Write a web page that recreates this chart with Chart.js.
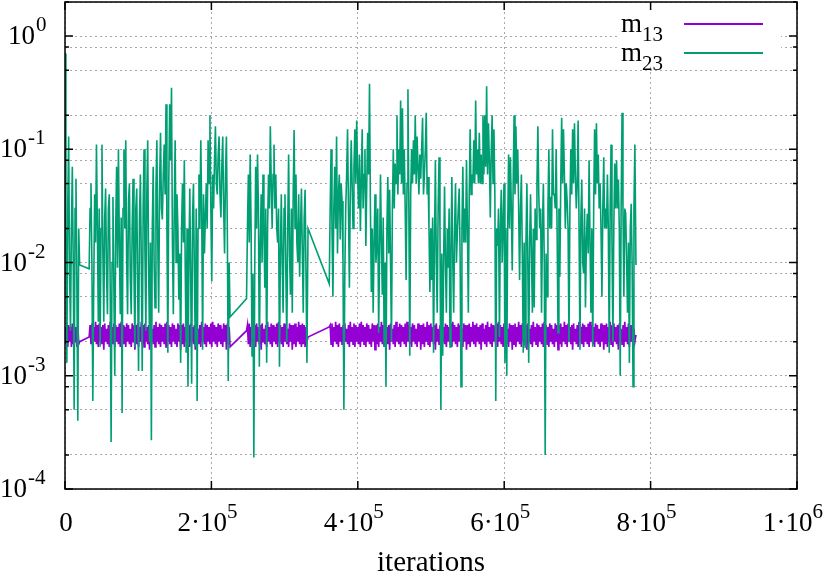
<!DOCTYPE html>
<html><head><meta charset="utf-8">
<script src="https://cdn.jsdelivr.net/npm/chart.js@4/dist/chart.umd.min.js"></script>
<style>html,body{margin:0;padding:0;background:#fff}#wrap{width:830px;height:575px}</style>
</head><body><div id="wrap"><canvas id="c" width="830" height="575"></canvas></div>
<script>
// iterations in thousands (sampling positions)
const iterationsK = [
0,1.25,2.5,3.75,5,6.25,7.5,8.75,10,11.25,12.5,13.75,15,16.25,17.5,18.75,20,
33,34.25,35.5,36.75,38,39.25,40.5,41.75,
43,44.25,45.5,46.75,48,49.25,50.5,51.75,
53,54.25,55.5,56.75,58,59.25,60.5,61.75,
63,64.25,65.5,66.75,68,69.25,70.5,71.75,
73,74.25,75.5,76.75,78,79.25,80.5,81.75,
83,84.25,85.5,86.75,88,89.25,90.5,91.75,
93,94.25,95.5,96.75,98,99.25,100.5,101.75,
103,104.25,105.5,106.75,108,109.25,110.5,111.75,
113,114.25,115.5,116.75,118,119.25,120.5,121.75,
123,124.25,125.5,126.75,128,129.25,130.5,131.75,
133,134.25,135.5,136.75,138,139.25,140.5,141.75,
143,144.25,145.5,146.75,148,149.25,150.5,151.75,
153,154.25,155.5,156.75,158,159.25,160.5,161.75,
163,164.25,165.5,166.75,168,169.25,170.5,171.75,
173,174.25,175.5,176.75,178,179.25,180.5,181.75,
183,184.25,185.5,186.75,188,189.25,190.5,191.75,
193,194.25,195.5,196.75,198,199.25,200.5,201.75,
203,204.25,205.5,206.75,208,209.25,210.5,211.75,
213,214.25,215.5,216.75,218,219.25,220.5,221.75,
223,224.25,225.5,
248,249.25,250.5,251.75,253,254.25,255.5,256.75,
258,259.25,260.5,261.75,263,264.25,265.5,266.75,
268,269.25,270.5,271.75,273,274.25,275.5,276.75,
278,279.25,280.5,281.75,283,284.25,285.5,286.75,
288,289.25,290.5,291.75,293,294.25,295.5,296.75,
298,299.25,300.5,301.75,303,304.25,305.5,306.75,
308,309.25,310.5,311.75,313,314.25,315.5,316.75,
318,319.25,320.5,321.75,323,324.25,325.5,326.75,
328,329.25,330.5,332,
361,362.25,363.5,364.75,366,367.25,368.5,369.75,
371,372.25,373.5,374.75,376,377.25,378.5,379.75,
381,382.25,383.5,384.75,386,387.25,388.5,389.75,
391,392.25,393.5,394.75,396,397.25,398.5,399.75,
401,402.25,403.5,404.75,406,407.25,408.5,409.75,
411,412.25,413.5,414.75,416,417.25,418.5,419.75,
421,422.25,423.5,424.75,426,427.25,428.5,429.75,
431,432.25,433.5,434.75,436,437.25,438.5,439.75,
441,442.25,443.5,444.75,446,447.25,448.5,449.75,
451,452.25,453.5,454.75,456,457.25,458.5,459.75,
461,462.25,463.5,464.75,466,467.25,468.5,469.75,
471,472.25,473.5,474.75,476,477.25,478.5,479.75,
481,482.25,483.5,484.75,486,487.25,488.5,489.75,
491,492.25,493.5,494.75,496,497.25,498.5,499.75,
501,502.25,503.5,504.75,506,507.25,508.5,509.75,
511,512.25,513.5,514.75,516,517.25,518.5,519.75,
521,522.25,523.5,524.75,526,527.25,528.5,529.75,
531,532.25,533.5,534.75,536,537.25,538.5,539.75,
541,542.25,543.5,544.75,546,547.25,548.5,549.75,
551,552.25,553.5,554.75,556,557.25,558.5,559.75,
561,562.25,563.5,564.75,566,567.25,568.5,569.75,
571,572.25,573.5,574.75,576,577.25,578.5,579.75,
581,582.25,583.5,584.75,586,587.25,588.5,589.75,
591,592.25,593.5,594.75,596,597.25,598.5,599.75,
601,602.25,603.5,604.75,606,607.25,608.5,609.75,
611,612.25,613.5,614.75,616,617.25,618.5,619.75,
621,622.25,623.5,624.75,626,627.25,628.5,629.75,
631,632.25,633.5,634.75,636,637.25,638.5,639.75,
641,642.25,643.5,644.75,646,647.25,648.5,649.75,
651,652.25,653.5,654.75,656,657.25,658.5,659.75,
661,662.25,663.5,664.75,666,667.25,668.5,669.75,
671,672.25,673.5,674.75,676,677.25,678.5,679.75,
681,682.25,683.5,684.75,686,687.25,688.5,689.75,
691,692.25,693.5,694.75,696,697.25,698.5,699.75,
701,702.25,703.5,704.75,706,707.25,708.5,709.75,
711,712.25,713.5,714.75,716,717.25,718.5,719.75,
721,722.25,723.5,724.75,726,727.25,728.5,729.75,
731,732.25,733.5,734.75,736,737.25,738.5,739.75,
741,742.25,743.5,744.75,746,747.25,748.5,749.75,
751,752.25,753.5,754.75,756,757.25,758.5,759.75,
761,762.25,763.5,764.75,766,767.25,768.5,769.75,
771,772.25,773.5,774.75,776,777.25,778.5,780
];

const m13 = [
0.0027,0.0019,0.0029,0.0018,0.0028,0.0020,0.0027,0.0018,0.0029,0.0019,0.0028,0.0020,0.0027,0.0018,0.0029,0.0019,0.0020,
0.0022,
0.0028,0.0019,0.0029,0.0018,0.0027,0.0020,0.0030,0.0019,0.0028,0.0018,
0.0029,0.0020,0.0027,0.0019,0.0028,0.0017,0.0029,0.0020,0.0026,0.0019,
0.0028,0.0018,0.0030,0.0020,0.0027,0.0019,0.0029,0.0018,0.0028,0.0020,
0.0027,0.0019,0.0029,0.0018,0.0030,0.0020,0.0028,0.0019,0.0027,0.0018,
0.0029,0.0020,0.0028,0.0019,0.0026,0.0018,0.0029,0.0020,0.0028,0.0017,
0.0028,0.0019,0.0029,0.0018,0.0027,0.0020,0.0030,0.0019,0.0028,0.0018,
0.0029,0.0020,0.0027,0.0019,0.0028,0.0017,0.0029,0.0020,0.0026,0.0019,
0.0028,0.0018,0.0030,0.0020,0.0027,0.0019,0.0029,0.0018,0.0028,0.0020,
0.0027,0.0019,0.0029,0.0018,0.0030,0.0020,0.0028,0.0019,0.0027,0.0018,
0.0029,0.0020,0.0028,0.0019,0.0026,0.0018,0.0029,0.0020,0.0028,0.0017,
0.0028,0.0019,0.0029,0.0018,0.0027,0.0020,0.0030,0.0019,0.0028,0.0018,
0.0029,0.0020,0.0027,0.0019,0.0028,0.0017,0.0029,0.0020,0.0026,0.0019,
0.0028,0.0018,0.0030,0.0020,0.0027,0.0019,0.0029,0.0018,0.0028,0.0020,
0.0027,0.0019,0.0029,0.0018,0.0030,0.0020,0.0028,0.0019,0.0027,0.0018,
0.0029,0.0020,0.0028,0.0019,0.0026,0.0018,0.0029,0.0020,0.0028,0.0017,
0.0029,0.0019,0.0027,0.0018,
0.0025,
0.0028,0.0019,0.0029,0.0018,0.0027,0.0020,0.0030,0.0019,0.0028,0.0018,
0.0029,0.0020,0.0027,0.0019,0.0028,0.0017,0.0029,0.0020,0.0026,0.0019,
0.0028,0.0018,0.0030,0.0020,0.0027,0.0019,0.0029,0.0018,0.0028,0.0020,
0.0027,0.0019,0.0029,0.0018,0.0030,0.0020,0.0028,0.0019,0.0027,0.0018,
0.0029,0.0020,0.0028,0.0019,0.0026,0.0018,0.0029,0.0020,0.0028,0.0017,
0.0028,0.0019,0.0029,0.0018,0.0027,0.0020,0.0030,0.0019,0.0028,0.0018,
0.0029,0.0019,0.0028,0.0018,0.0027,0.0020,0.0022,
0.0027,
0.0028,0.0019,0.0029,0.0018,0.0027,0.0020,0.0030,0.0019,0.0028,0.0018,
0.0029,0.0020,0.0027,0.0019,0.0028,0.0017,0.0029,0.0020,0.0026,0.0019,
0.0028,0.0018,0.0030,0.0020,0.0027,0.0019,0.0029,0.0018,0.0028,0.0020,
0.0027,0.0019,0.0029,0.0018,0.0030,0.0020,0.0028,0.0019,0.0027,0.0018,
0.0029,0.0020,0.0028,0.0019,0.0026,0.0018,0.0029,0.0020,0.0028,0.0017,
0.0028,0.0019,0.0029,0.0018,0.0027,0.0020,0.0030,0.0019,0.0028,0.0018,
0.0029,0.0020,0.0027,0.0019,0.0028,0.0017,0.0029,0.0020,0.0026,0.0019,
0.0028,0.0018,0.0030,0.0020,0.0027,0.0019,0.0029,0.0018,0.0028,0.0020,
0.0027,0.0019,0.0029,0.0018,0.0030,0.0020,0.0028,0.0019,0.0027,0.0018,
0.0029,0.0020,0.0028,0.0019,0.0026,0.0018,0.0029,0.0020,0.0028,0.0017,
0.0028,0.0019,0.0029,0.0018,0.0027,0.0020,0.0030,0.0019,0.0028,0.0018,
0.0029,0.0020,0.0027,0.0019,0.0028,0.0017,0.0029,0.0020,0.0026,0.0019,
0.0028,0.0018,0.0030,0.0020,0.0027,0.0019,0.0029,0.0018,0.0028,0.0020,
0.0027,0.0019,0.0029,0.0018,0.0030,0.0020,0.0028,0.0019,0.0027,0.0018,
0.0029,0.0020,0.0028,0.0019,0.0026,0.0018,0.0029,0.0020,0.0028,0.0017,
0.0028,0.0019,0.0029,0.0018,0.0027,0.0020,0.0030,0.0019,0.0028,0.0018,
0.0029,0.0020,0.0027,0.0019,0.0028,0.0017,0.0029,0.0020,0.0026,0.0019,
0.0028,0.0018,0.0030,0.0020,0.0027,0.0019,0.0029,0.0018,0.0028,0.0020,
0.0027,0.0019,0.0029,0.0018,0.0030,0.0020,0.0028,0.0019,0.0027,0.0018,
0.0029,0.0020,0.0028,0.0019,0.0026,0.0018,0.0029,0.0020,0.0028,0.0017,
0.0028,0.0019,0.0029,0.0018,0.0027,0.0020,0.0030,0.0019,0.0028,0.0018,
0.0029,0.0020,0.0027,0.0019,0.0028,0.0017,0.0029,0.0020,0.0026,0.0019,
0.0028,0.0018,0.0030,0.0020,0.0027,0.0019,0.0029,0.0018,0.0028,0.0020,
0.0027,0.0019,0.0029,0.0018,0.0030,0.0020,0.0028,0.0019,0.0027,0.0018,
0.0029,0.0020,0.0028,0.0019,0.0026,0.0018,0.0029,0.0020,0.0028,0.0017,
0.0028,0.0019,0.0029,0.0018,0.0027,0.0020,0.0030,0.0019,0.0028,0.0018,
0.0029,0.0020,0.0027,0.0019,0.0028,0.0017,0.0029,0.0020,0.0026,0.0019,
0.0028,0.0018,0.0030,0.0020,0.0027,0.0019,0.0029,0.0018,0.0028,0.0020,
0.0027,0.0019,0.0029,0.0018,0.0030,0.0020,0.0028,0.0019,0.0027,0.0018,
0.0029,0.0020,0.0028,0.0019,0.0026,0.0018,0.0029,0.0020,0.0028,0.0017,
0.0028,0.0019,0.0029,0.0018,0.0027,0.0020,0.0030,0.0019,0.0028,0.0018,
0.0029,0.0020,0.0027,0.0019,0.0028,0.0017,0.0029,0.0020,0.0026,0.0019,
0.0028,0.0018,0.0030,0.0020,0.0027,0.0019,0.0029,0.0018,0.0028,0.0020,
0.0028,0.0019,0.0026,0.0020,0.0023
];

const m23 = [
0.7,0.02,0.0013,0.03,0.13,0.008,0.0025,0.02,0.07,0.01,0.0005,0.03,0.055,0.006,0.0004,0.02,0.0095,
0.0088,0.03,0.05,0.01,0.0006,0.006,0.04,0.015,0.11,0.02,0.003,0.03,0.0018,0.02,0.11,0.012,0.003,0.025,0.045,0.008,
0.0035,0.03,0.04,0.006,0.00026,0.01,0.038,0.006,0.001,0.02,0.07,0.009,0.1,0.015,0.0035,0.025,0.00047,0.03,0.1,0.02,
0.12,0.01,0.0035,0.035,0.05,0.007,0.0035,0.02,0.055,0.008,0.0018,0.03,0.045,0.006,0.0011,0.025,0.06,0.01,0.0011,0.03,
0.1,0.012,0.0025,0.04,0.12,0.009,0.002,0.015,0.00027,0.02,0.07,0.01,0.004,0.045,0.12,0.015,0.0036,0.05,0.14,0.03,
0.024,0.06,0.11,0.04,0.25,0.02,0.0016,0.05,0.25,0.08,0.35,0.015,0.0035,0.03,0.12,0.01,0.04,0.02,0.0047,0.012,
0.0013,0.02,0.05,0.015,0.08,0.009,0.0016,0.02,0.0008,0.01,0.045,0.007,0.00085,0.025,0.05,0.008,0.0018,0.03,0.0006,0.02,
0.06,0.02,0.12,0.03,0.0017,0.04,0.012,0.025,0.05,0.02,0.12,0.05,0.2,0.03,0.0068,0.06,0.03,0.08,0.16,0.05,
0.04,0.09,0.13,0.04,0.025,0.07,0.13,0.03,0.012,0.06,0.13,0.02,0.0009,0.01,0.0033,
0.0048,0.02,0.06,0.015,0.09,0.02,0.0015,0.008,0.00019,0.01,0.07,0.02,0.09,0.03,0.0012,0.015,0.04,0.01,0.06,0.02,
0.006,0.03,0.0013,0.02,0.06,0.03,0.16,0.05,0.02,0.06,0.11,0.03,0.06,0.02,0.015,0.03,0.0012,0.012,0.04,0.01,
0.0036,0.03,0.04,0.008,0.002,0.02,0.09,0.012,0.0052,0.03,0.0036,0.04,0.148,0.02,0.06,0.015,0.01,0.04,0.0075,0.02,
0.045,0.012,0.0036,0.025,0.044,0.008,0.0013,0.02,
0.0065,0.03,0.1,0.02,0.005,0.03,0.07,0.02,0.13,0.012,0.04,0.06,0.016,0.05,0.035,0.01,0.0005,0.008,0.03,0.06,
0.15,0.03,0.006,0.04,0.12,0.05,0.02,0.07,0.15,0.05,0.18,0.06,0.03,0.09,0.019,0.05,0.15,0.03,0.06,0.1,
0.014,0.05,0.14,0.06,0.38,0.03,0.0055,0.02,0.0036,0.015,0.04,0.01,0.014,0.03,0.0024,0.012,0.06,0.015,0.0052,0.025,
0.0018,0.01,0.0008,0.02,0.057,0.012,0.044,0.01,0.002,0.03,0.1,0.03,0.075,0.05,0.2,0.04,0.1,0.06,0.27,0.05,
0.23,0.04,0.1,0.03,0.007,0.05,0.34,0.03,0.0015,0.04,0.1,0.05,0.12,0.06,0.2,0.05,0.13,0.07,0.04,0.09,
0.055,0.1,0.19,0.04,0.06,0.1,0.21,0.04,0.057,0.02,0.0055,0.02,0.007,0.025,0.0016,0.015,0.08,0.01,0.0036,0.03,
0.085,0.02,0.0005,0.012,0.0015,0.01,0.047,0.01,0.0036,0.02,0.009,0.03,0.0018,0.012,0.057,0.01,0.0036,0.02,0.05,0.01,
0.018,0.03,0.045,0.012,0.0008,0.02,0.07,0.015,0.03,0.015,0.08,0.02,0.0036,0.04,0.15,0.04,0.06,0.05,0.12,0.05,
0.27,0.06,0.1,0.05,0.14,0.05,0.09,0.05,0.2,0.06,0.2,0.07,0.36,0.06,0.17,0.08,0.025,0.09,0.2,0.05,
0.15,0.04,0.0006,0.02,0.014,0.03,0.0022,0.02,0.044,0.01,0.023,0.05,0.0013,0.02,0.001,0.02,0.09,0.02,0.085,0.03,
0.0085,0.05,0.2,0.04,0.16,0.05,0.1,0.03,0.007,0.03,0.06,0.012,0.0016,0.015,0.0018,0.015,0.05,0.01,0.0013,0.015,
0.04,0.012,0.0036,0.02,0.004,0.03,0.016,0.05,0.16,0.04,0.02,0.03,0.0036,0.02,0.05,0.01,0.0002,0.012,0.005,0.03,
0.1,0.02,0.038,0.02,0.15,0.04,0.04,0.03,0.1,0.02,0.0024,0.03,0.0075,0.05,0.19,0.05,0.15,0.06,0.02,0.05,
0.035,0.02,0.002,0.03,0.1,0.04,0.15,0.05,0.17,0.06,0.03,0.05,0.18,0.02,0.0017,0.025,0.054,0.01,0.008,0.03,
0.004,0.015,0.027,0.012,0.08,0.015,0.0036,0.02,0.0018,0.03,0.15,0.04,0.17,0.05,0.09,0.03,0.05,0.02,0.005,0.03,
0.085,0.02,0.03,0.02,0.06,0.02,0.0016,0.03,0.11,0.015,0.002,0.02,0.075,0.03,0.08,0.03,0.054,0.02,0.001,0.03,
0.21,0.03,0.005,0.03,0.027,0.01,0.0036,0.015,0.0013,0.02,0.033,0.01,0.0008,0.03,0.11,0.0095
];

const seriesNames = ["m", "m"];
const seriesSubscripts = ["13", "23"];
const seriesColors = ["#9400d3", "#009e73"];

const xTickValues = [0, 200000, 400000, 600000, 800000, 1000000];
const xTickMantissa = ["0", "2·10", "4·10", "6·10", "8·10", "1·10"];
const xTickExponent = ["", "5", "5", "5", "5", "6"];
const yTickValues = [1e-4, 1e-3, 1e-2, 1e-1, 1];
const yTickExponent = ["-4", "-3", "-2", "-1", "0"];
const yMinorValues = [2e-4, 5e-4, 8e-4, 2e-3, 5e-3, 8e-3, 2e-2, 5e-2, 8e-2, 0.2, 0.5, 0.8, 2];
const xTitle = "iterations";

const FONT = '"Liberation Serif", "Times New Roman", serif';
const BIG = 27, SMALL = 21, TITLE = 29;

function pts(vals) {
  const n = Math.min(iterationsK.length, vals.length);
  const out = [];
  for (let i = 0; i < n; i++) out.push({x: iterationsK[i] * 1000, y: vals[i]});
  return out;
}

const decor = {
  id: 'decor',
  afterDraw(chart) {
    const ctx = chart.ctx, a = chart.chartArea;
    const xs = chart.scales.x, ys = chart.scales.y;
    ctx.save();
    ctx.fillStyle = '#fff';
    ctx.fillRect(a.right - 180, a.top + 1, 164, 62);
    for (let i = 0; i < seriesNames.length; i++) {
      const base = a.top + 30 + i * 29;
      ctx.fillStyle = '#000';
      ctx.textBaseline = 'alphabetic';
      ctx.textAlign = 'left';
      ctx.font = BIG + 'px ' + FONT;
      const tx = a.right - 176;
      ctx.fillText(seriesNames[i], tx, base);
      const mw = ctx.measureText(seriesNames[i]).width;
      ctx.font = SMALL + 'px ' + FONT;
      ctx.fillText(seriesSubscripts[i], tx + mw, base + 9);
      ctx.strokeStyle = seriesColors[i];
      ctx.lineWidth = 2;
      ctx.beginPath();
      ctx.moveTo(a.right - 113, base - 8);
      ctx.lineTo(a.right - 34, base - 8);
      ctx.stroke();
    }
    ctx.strokeStyle = '#000';
    ctx.lineWidth = 1.5;
    ctx.strokeRect(a.left, a.top, a.right - a.left, a.bottom - a.top);
    ctx.beginPath();
    xTickValues.forEach(v => {
      const px = xs.getPixelForValue(v);
      ctx.moveTo(px, a.bottom); ctx.lineTo(px, a.bottom - 8);
      ctx.moveTo(px, a.top); ctx.lineTo(px, a.top + 8);
    });
    yTickValues.forEach(v => {
      const py = ys.getPixelForValue(v);
      ctx.moveTo(a.left, py); ctx.lineTo(a.left + 8, py);
      ctx.moveTo(a.right, py); ctx.lineTo(a.right - 8, py);
    });
    yMinorValues.forEach(v => {
      const py = ys.getPixelForValue(v);
      ctx.moveTo(a.left, py); ctx.lineTo(a.left + 4, py);
      ctx.moveTo(a.right, py); ctx.lineTo(a.right - 4, py);
    });
    ctx.stroke();
    ctx.fillStyle = '#000';
    ctx.textAlign = 'left';
    ctx.textBaseline = 'alphabetic';
    yTickValues.forEach((v, i) => {
      const py = ys.getPixelForValue(v);
      const len = 2 + yTickExponent[i].length;
      const lx = 8 * (4 - len);
      ctx.font = BIG + 'px ' + FONT;
      ctx.fillText('10', lx, py + 8);
      const w = ctx.measureText('10').width;
      ctx.font = SMALL + 'px ' + FONT;
      ctx.fillText(yTickExponent[i], lx + w + 1, py - 5);
    });
    xTickValues.forEach((v, i) => {
      const px = xs.getPixelForValue(v);
      ctx.font = BIG + 'px ' + FONT;
      const w1 = ctx.measureText(xTickMantissa[i]).width;
      ctx.font = SMALL + 'px ' + FONT;
      const w2 = xTickExponent[i] ? ctx.measureText(xTickExponent[i]).width : 0;
      const shift = xTickExponent[i] ? -4 : 1;
      const lx = px - (w1 + w2) / 2 + shift;
      ctx.font = BIG + 'px ' + FONT;
      ctx.fillText(xTickMantissa[i], lx, a.bottom + 42);
      if (xTickExponent[i]) {
        ctx.font = SMALL + 'px ' + FONT;
        ctx.fillText(xTickExponent[i], lx + w1, a.bottom + 29);
      }
    });
    ctx.font = TITLE + 'px ' + FONT;
    ctx.textAlign = 'center';
    ctx.fillText(xTitle, (a.left + a.right) / 2, a.bottom + 82);
    ctx.restore();
  }
};

const gridOpts = {color: '#a8a8a8', lineWidth: 1, drawTicks: false};

new Chart(document.getElementById('c'), {
  type: 'line',
  data: {
    datasets: [
      {label: 'm13', data: pts(m13), borderColor: seriesColors[0], borderWidth: 1.7, pointRadius: 0, order: 1},
      {label: 'm23', data: pts(m23), borderColor: seriesColors[1], borderWidth: 1.6, pointRadius: 0, order: 0}
    ]
  },
  options: {
    responsive: false,
    animation: false,
    devicePixelRatio: 1,
    elements: {line: {tension: 0, fill: false}},
    layout: {padding: {top: 2, right: 33, left: 0, bottom: 0}},
    plugins: {legend: {display: false}, tooltip: {enabled: false}},
    scales: {
      x: {
        type: 'linear', min: 0, max: 1000000,
        afterBuildTicks: s => { s.ticks = xTickValues.map(v => ({value: v})); },
        afterFit: s => { s.height = 86; },
        ticks: {display: false},
        grid: gridOpts,
        border: {display: false, dash: [2, 3]}
      },
      y: {
        type: 'logarithmic', min: 1e-4, max: 2,
        afterBuildTicks: s => { s.ticks = yTickValues.concat(yMinorValues).sort((p, q) => p - q).map(v => ({value: v})); },
        afterFit: s => { s.width = 65; },
        ticks: {display: false},
        grid: gridOpts,
        border: {display: false, dash: [2, 3]}
      }
    }
  },
  plugins: [decor]
});
</script>
</body></html>
